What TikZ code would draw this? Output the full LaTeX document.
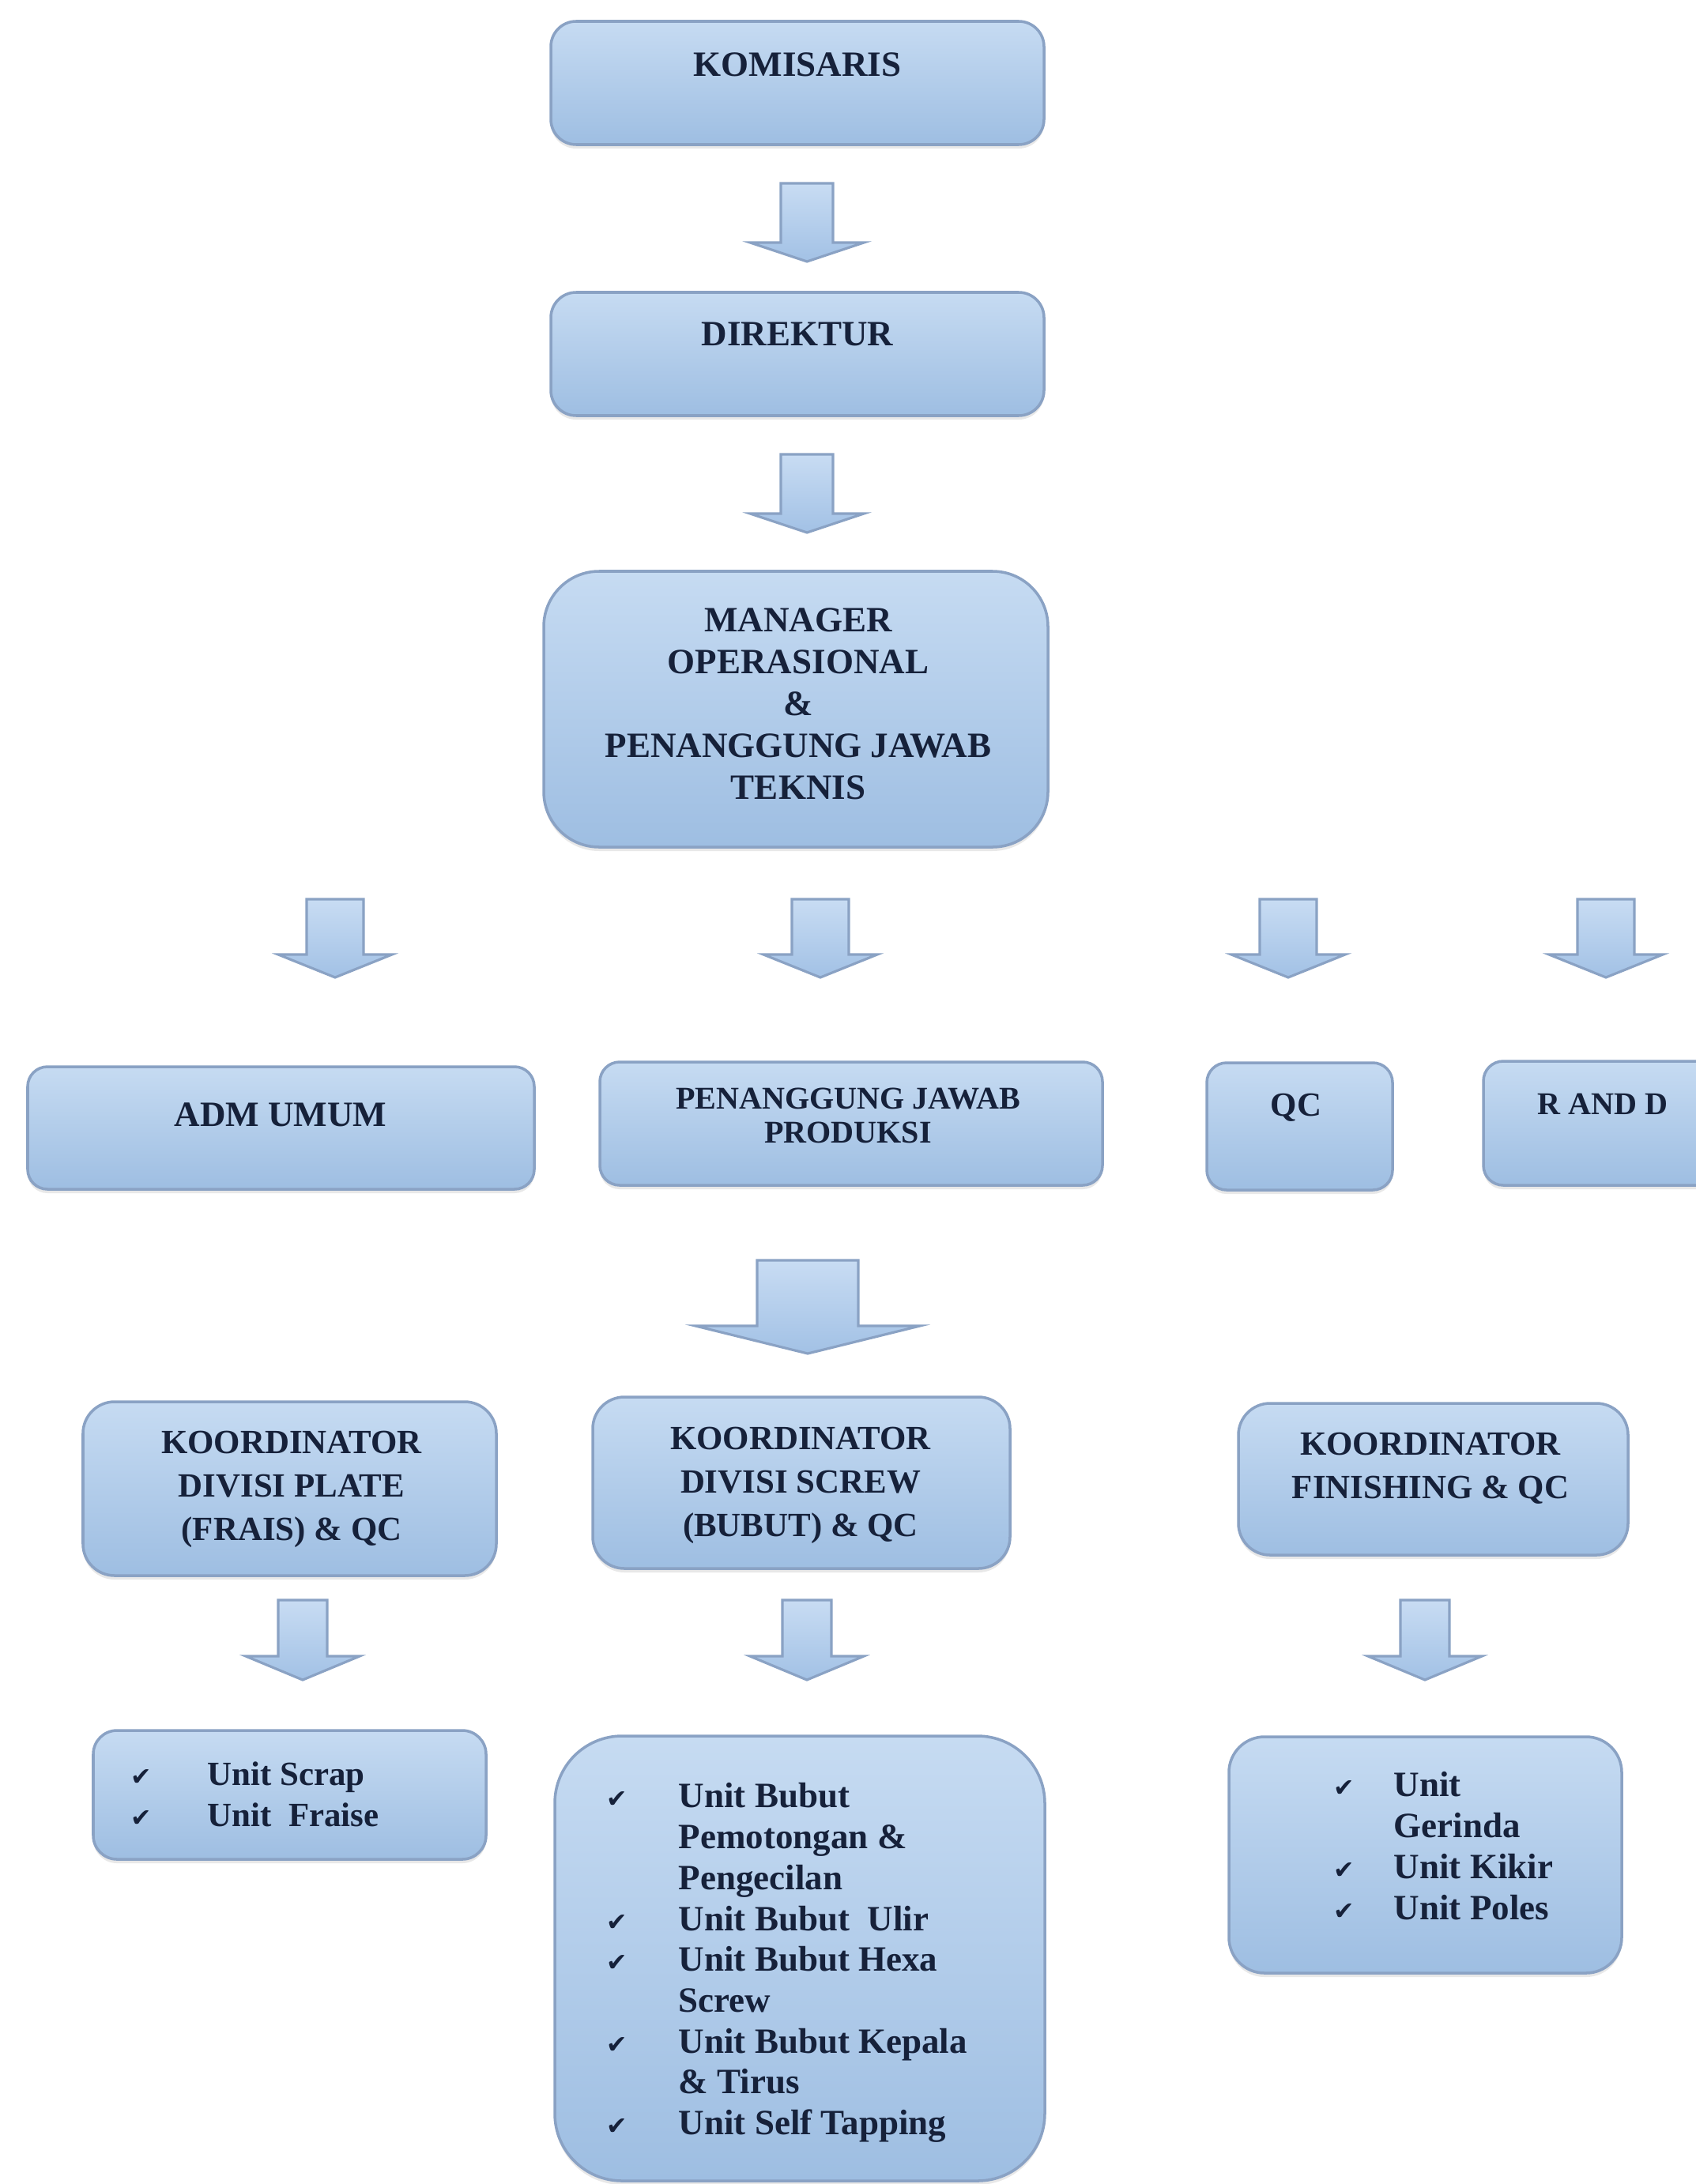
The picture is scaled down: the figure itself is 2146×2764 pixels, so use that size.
\documentclass[tikz,border=0pt]{standalone}
\usepackage{fontspec}
\setmainfont{Liberation Serif}
\newfontfamily\ckfont{DejaVu Sans}
\usetikzlibrary{shadows,fit}
\definecolor{boxtop}{HTML}{C6DBF2}
\definecolor{boxbot}{HTML}{9EBEE2}
\definecolor{boxline}{HTML}{8AA2C4}
\definecolor{txtc}{HTML}{16213A}
\definecolor{arrtop}{HTML}{C8DCF3}
\definecolor{arrbot}{HTML}{A2C1E5}
\newcommand\ck{{\ckfont\fontsize{9pt}{9pt}\selectfont ✔}}
\tikzset{
 box/.style={draw=boxline, line width=1pt, top color=boxtop, bottom color=boxbot, inner sep=0pt,
   drop shadow={shadow xshift=0pt, shadow yshift=-0.05cm, opacity=0.18}},
 ttl/.style={text=txtc, font=\bfseries\fontsize{12.8pt}{15.1pt}\selectfont, align=center, inner sep=0pt},
 ttlsm/.style={ttl, font=\bfseries\fontsize{11.4pt}{12.3pt}\selectfont},
 ttlk/.style={ttl, font=\bfseries\fontsize{12.2pt}{15.6pt}\selectfont},
 lst/.style={text=txtc, font=\bfseries\fontsize{12.8pt}{14.7pt}\selectfont, align=left, inner sep=0pt, anchor=north west},
 lstsm/.style={lst, font=\bfseries\fontsize{12.2pt}{14.7pt}\selectfont},
 arr/.style={draw=boxline, line width=0.9pt, top color=arrtop, bottom color=arrbot, line join=miter},
 pics/blockarrow/.style args={#1/#2/#3/#4}{code={\path[arr] (-#1,0) -- (#1,0) -- (#1,#2) -- (#3,#2) -- (0,#4) -- (-#3,#2) -- (-#1,#2) -- cycle;}}
}
\begin{document}
\begin{tikzpicture}[x=0.01cm, y=-0.01cm]
\fill[white] (0,0) rectangle (2146,2764);
\useasboundingbox (0,0) rectangle (2146,2764);
\clip (0,0) rectangle (2146,2764);

% level 1-3
\node[box, rounded corners=0.32cm, fit={(697,27) (1321,183)}] (kom) {};
\node[ttl] (komt) at (1009,82) {KOMISARIS};
\node[box, rounded corners=0.32cm, fit={(697,370) (1321,526)}] (dir) {};
\node[ttl] (dirt) at (1009,423) {DIREKTUR};
\node[box, rounded corners=0.7cm, fit={(688,723) (1326,1072)}] (mgr) {};
\node[ttl] (mgrt) at (1010,891) {MANAGER\\OPERASIONAL\\\&\\PENANGGUNG JAWAB\\TEKNIS};

% level 4
\node[box, rounded corners=0.25cm, fit={(35,1350) (676,1505)}] (adm) {};
\node[ttl] (admt) at (355,1411) {ADM UMUM};
\node[box, rounded corners=0.25cm, fit={(759,1344) (1395,1500)}] (pjp) {};
\node[ttlsm] (pjpt) at (1073,1412) {PENANGGUNG JAWAB\\PRODUKSI};
\node[box, rounded corners=0.25cm, fit={(1527,1345) (1762,1506)}] (qc) {};
\node[ttlk] (qct) at (1640,1402) {QC};
\node[box, rounded corners=0.25cm, fit={(1877,1343) (2240,1500)}] (rnd) {};
\node[ttlsm] (rndt) at (2028,1397) {R AND D};

% level 5
\node[box, rounded corners=0.4cm, fit={(105,1774) (628,1994)}] (kpl) {};
\node[ttlk] (kplt) at (369,1885) {KOORDINATOR\\DIVISI PLATE\\(FRAIS) \& QC};
\node[box, rounded corners=0.4cm, fit={(750,1768) (1278,1985)}] (ksc) {};
\node[ttlk] (ksct) at (1013,1880) {KOORDINATOR\\DIVISI SCREW\\(BUBUT) \& QC};
\node[box, rounded corners=0.4cm, fit={(1567,1776) (2060,1968)}] (kfi) {};
\node[ttlk] (kfit) at (1810,1858) {KOORDINATOR\\FINISHING \& QC};

% level 6
\node[box, rounded corners=0.3cm, fit={(118,2190) (615,2353)}] (lpl) {};
\node[lstsm] (lplt) at (165,2229) {\makebox[0.97cm][l]{\ck}Unit Scrap\\
\makebox[0.97cm][l]{\ck}Unit\ \ Fraise};
\node[box, rounded corners=0.85cm, fit={(702,2197) (1322,2760)}] (lsc) {};
\node[lst] (lsct) at (767,2256) {\makebox[0.91cm][l]{\ck}Unit Bubut\\
\hspace*{0.91cm}Pemotongan \&\\
\hspace*{0.91cm}Pengecilan\\
\makebox[0.91cm][l]{\ck}Unit Bubut\ \ Ulir\\
\makebox[0.91cm][l]{\ck}Unit Bubut Hexa\\
\hspace*{0.91cm}Screw\\
\makebox[0.91cm][l]{\ck}Unit Bubut Kepala\\
\hspace*{0.91cm}\& Tirus\\
\makebox[0.91cm][l]{\ck}Unit Self Tapping};
\node[box, rounded corners=0.45cm, fit={(1555,2198) (2052,2497)}] (lfi) {};
\node[lst] (lfit) at (1687,2242) {\makebox[0.76cm][l]{\ck}Unit\\
\hspace*{0.76cm}Gerinda\\
\makebox[0.76cm][l]{\ck}Unit Kikir\\
\makebox[0.76cm][l]{\ck}Unit Poles};

% block arrows
\pic at (1021,232) {blockarrow=33/75/72/99};
\pic at (1021,575) {blockarrow=33/75/72/99};
\pic at (424,1138) {blockarrow=36/70/72/99};
\pic at (1038,1138) {blockarrow=36/70/72/99};
\pic at (1630,1138) {blockarrow=36/70/72/99};
\pic at (2032,1138) {blockarrow=36/70/72/99};
\pic at (1022,1595) {blockarrow=64/83/142/118};
\pic at (383,2025) {blockarrow=31/71/72/101};
\pic at (1021,2025) {blockarrow=31/71/72/101};
\pic at (1803,2025) {blockarrow=31/71/72/101};
\end{tikzpicture}
\end{document}
